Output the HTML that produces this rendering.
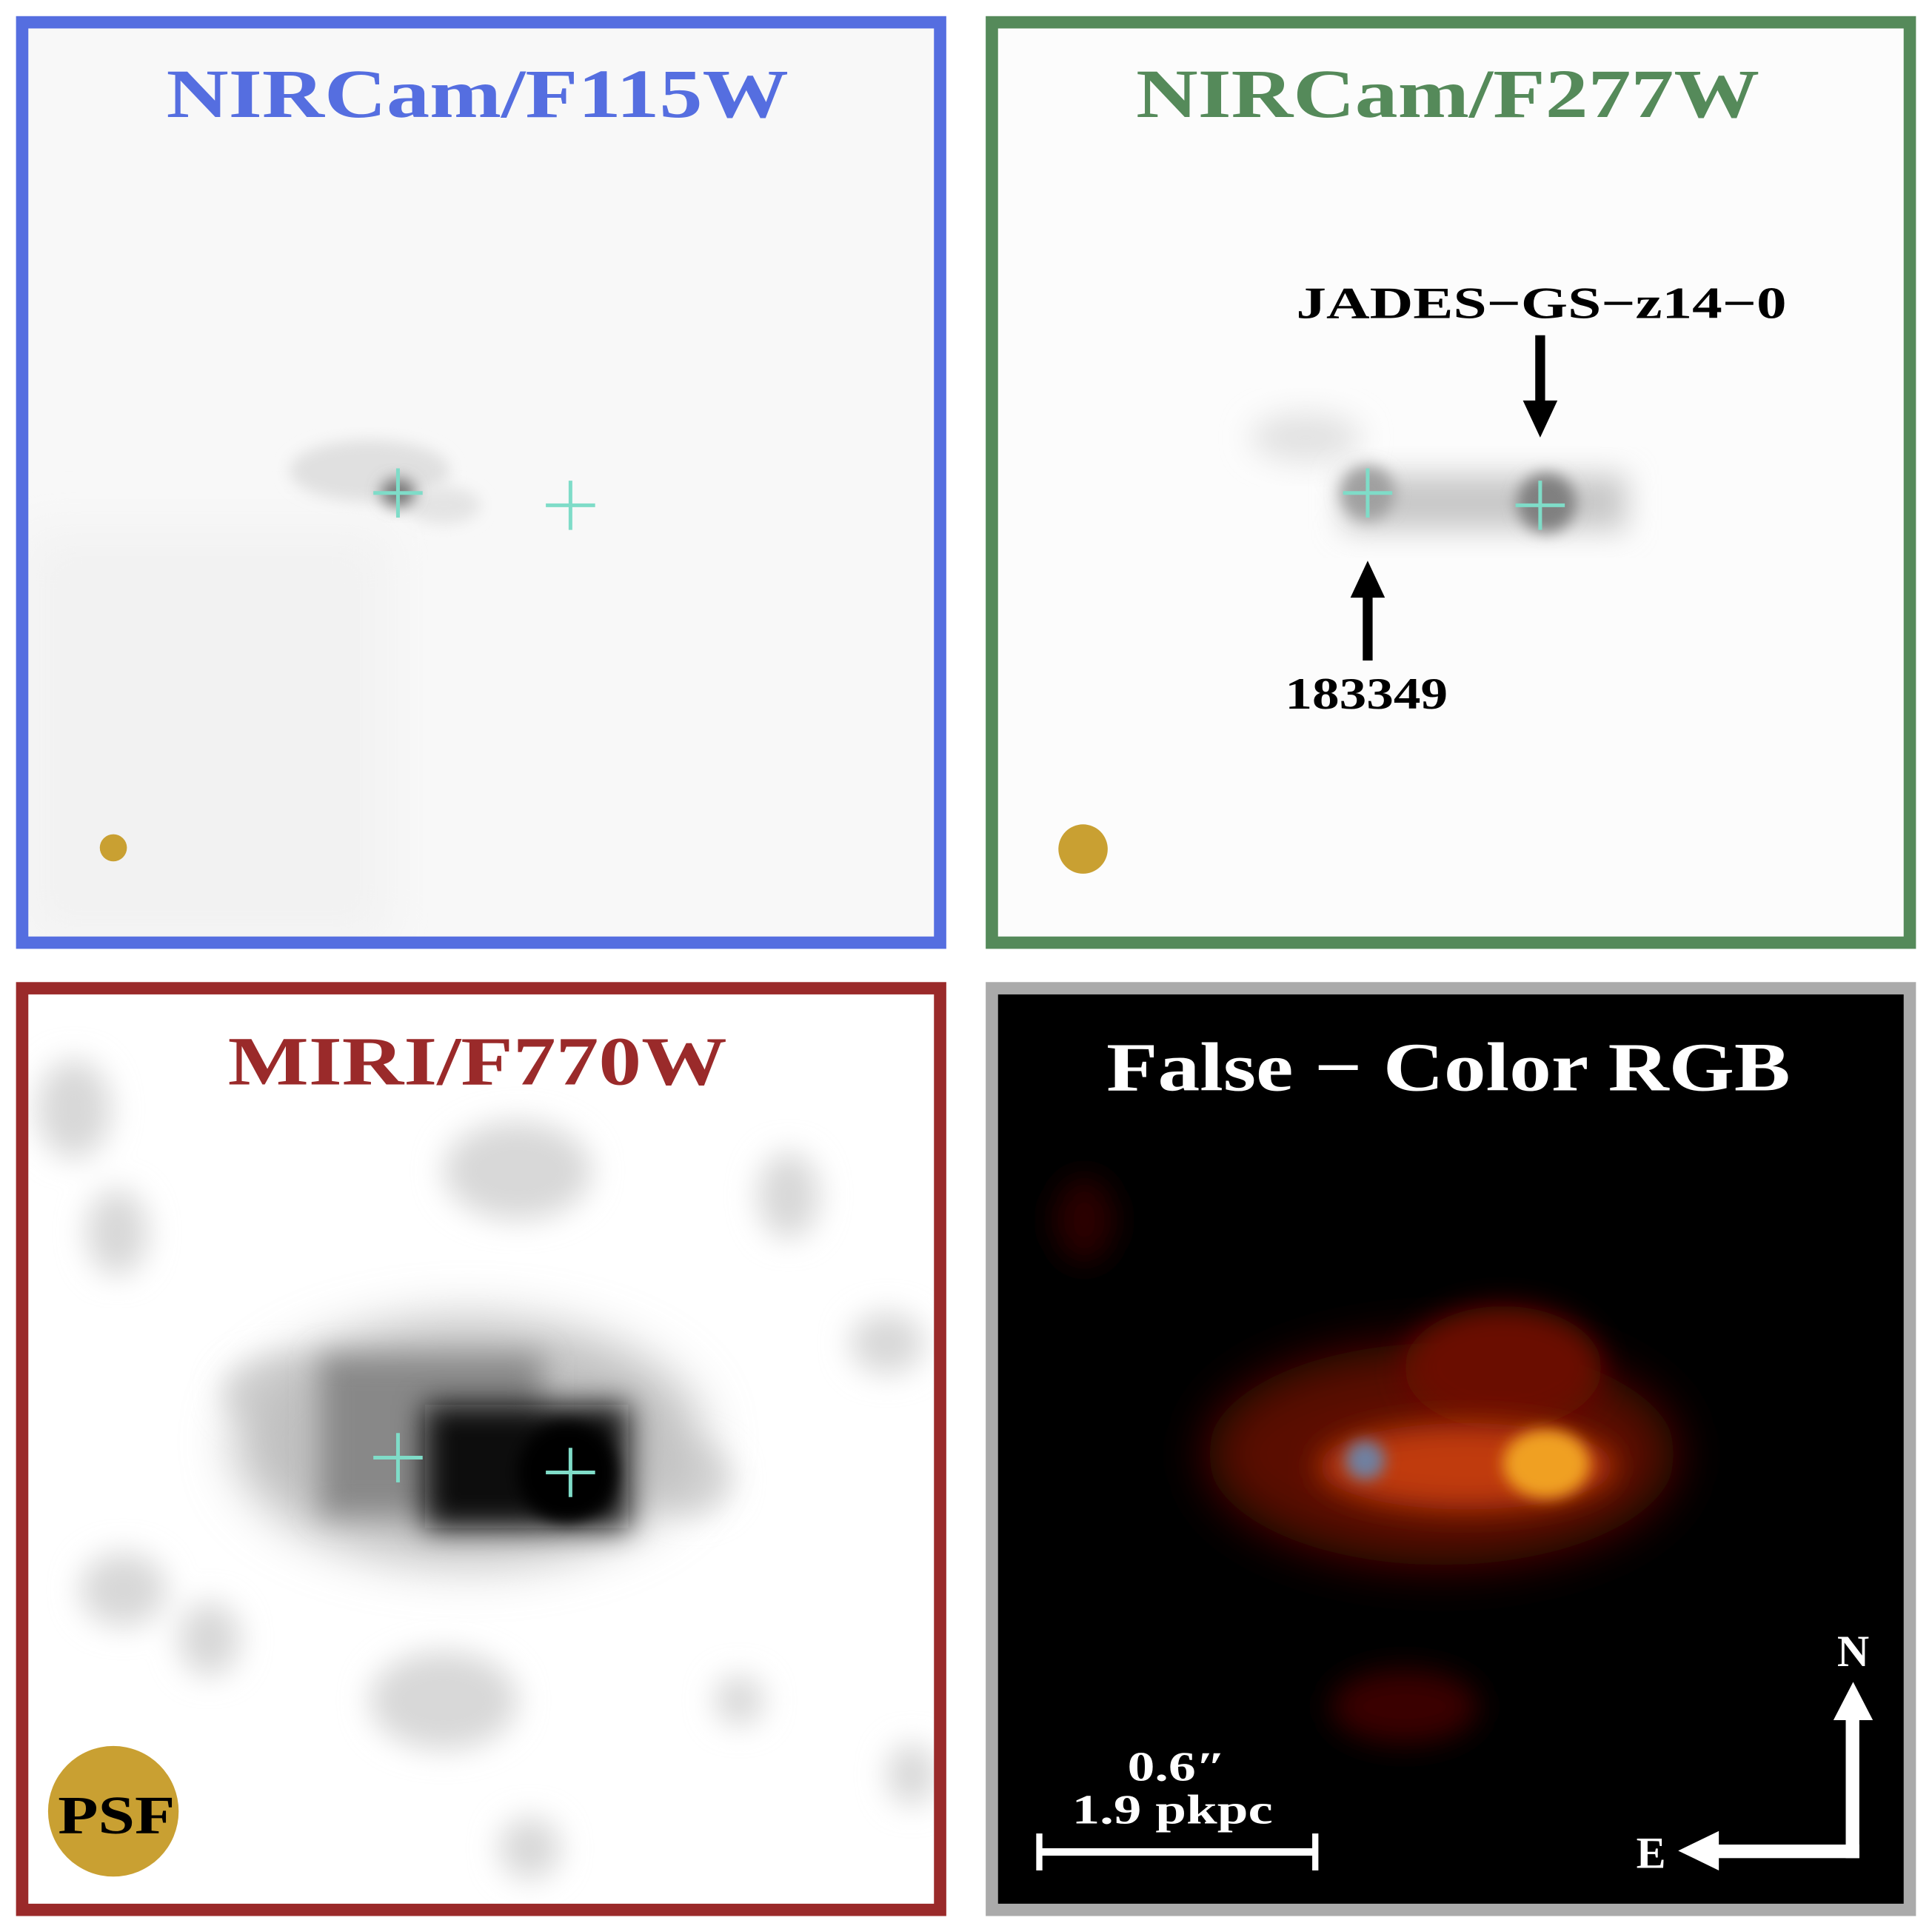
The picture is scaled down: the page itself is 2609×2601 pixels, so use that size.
<!DOCTYPE html>
<html><head><meta charset="utf-8"><style>
html,body{margin:0;padding:0;background:#fff;}
svg{display:block;}
text{font-family:"Liberation Serif",serif;font-weight:bold;}
</style></head><body>
<svg width="2609" height="2601" viewBox="0 0 1568 1563" xmlns="http://www.w3.org/2000/svg">
<defs>
<filter id="b6" x="-50%" y="-50%" width="200%" height="200%"><feGaussianBlur stdDeviation="6"/></filter>
<filter id="b12" x="-50%" y="-50%" width="200%" height="200%"><feGaussianBlur stdDeviation="12"/></filter>
<filter id="b20" x="-50%" y="-50%" width="200%" height="200%"><feGaussianBlur stdDeviation="20"/></filter>
<clipPath id="cTL"><rect x="18" y="18" width="745" height="747"/></clipPath>
<clipPath id="cTR"><rect x="805" y="18" width="745" height="747"/></clipPath>
<clipPath id="cBL"><rect x="18" y="802" width="745" height="748"/></clipPath>
<clipPath id="cBR"><rect x="805" y="802" width="745" height="748"/></clipPath>
</defs>
<rect width="1568" height="1563" fill="#fff"/>

<!-- TL -->
<g clip-path="url(#cTL)">
<rect x="18" y="18" width="745" height="747" fill="#f8f8f8"/>
<rect x="18" y="430" width="300" height="335" fill="#f2f2f2" filter="url(#b20)"/>
<ellipse cx="300" cy="382" rx="65" ry="25" fill="#e0e0e0" filter="url(#b6)"/>
<ellipse cx="360" cy="410" rx="30" ry="15" fill="#e4e4e4" filter="url(#b6)"/>
<ellipse cx="323" cy="400" rx="14" ry="12" fill="#777" filter="url(#b6)"/>
</g>
<rect x="18" y="18" width="745" height="747" fill="none" stroke="#556ee0" stroke-width="10"/>
<text x="135" y="95" font-size="56" fill="#556ee0" textLength="505" lengthAdjust="spacingAndGlyphs">NIRCam/F115W</text>
<circle cx="92" cy="688" r="11" fill="#c9a032"/>

<!-- TR -->
<g clip-path="url(#cTR)">
<rect x="805" y="18" width="745" height="747" fill="#fcfcfc"/>
<ellipse cx="1060" cy="355" rx="45" ry="20" fill="#e2e2e2" filter="url(#b12)"/>
<rect x="1090" y="385" width="230" height="45" fill="#c8c8c8" filter="url(#b12)"/>
<ellipse cx="1110" cy="400" rx="22" ry="22" fill="#a0a0a0" filter="url(#b6)"/>
<ellipse cx="1255" cy="408" rx="24" ry="24" fill="#808080" filter="url(#b6)"/>
</g>
<rect x="805" y="18" width="745" height="747" fill="none" stroke="#558a5a" stroke-width="10"/>
<text x="922" y="95" font-size="56" fill="#558a5a" textLength="506" lengthAdjust="spacingAndGlyphs">NIRCam/F277W</text>
<circle cx="879" cy="689" r="20" fill="#c9a032"/>
<text x="1052" y="258" font-size="36" fill="#000" textLength="398" lengthAdjust="spacingAndGlyphs">JADES−GS−z14−0</text>
<rect x="1246" y="272" width="8" height="58" fill="#000"/>
<polygon points="1236,325 1264,325 1250,355" fill="#000"/>
<rect x="1106" y="480" width="8" height="56" fill="#000"/>
<polygon points="1096,485 1124,485 1110,455" fill="#000"/>
<text x="1043" y="575" font-size="36" fill="#000" textLength="132" lengthAdjust="spacingAndGlyphs">183349</text>

<!-- BL -->
<g clip-path="url(#cBL)">
<rect x="18" y="802" width="745" height="748" fill="#fff"/>
<g fill="#d8d8d8" filter="url(#b12)">
<ellipse cx="60" cy="900" rx="30" ry="40"/>
<ellipse cx="95" cy="1000" rx="25" ry="35"/>
<ellipse cx="420" cy="950" rx="60" ry="40"/>
<ellipse cx="640" cy="970" rx="25" ry="35"/>
<ellipse cx="360" cy="1380" rx="60" ry="40"/>
<ellipse cx="100" cy="1290" rx="35" ry="30"/>
<ellipse cx="170" cy="1330" rx="25" ry="30"/>
<ellipse cx="720" cy="1090" rx="30" ry="25"/>
<ellipse cx="600" cy="1380" rx="20" ry="20"/>
<ellipse cx="740" cy="1440" rx="20" ry="25"/>
<ellipse cx="430" cy="1500" rx="25" ry="25"/>
<ellipse cx="230" cy="1130" rx="50" ry="30"/>
<ellipse cx="560" cy="1200" rx="35" ry="30"/>
</g>
<ellipse cx="380" cy="1170" rx="190" ry="100" fill="#c0c0c0" filter="url(#b20)"/>
<rect x="260" y="1100" width="180" height="130" fill="#888" filter="url(#b12)"/>
<rect x="345" y="1140" width="165" height="100" fill="#111" filter="url(#b12)"/>
<ellipse cx="460" cy="1195" rx="40" ry="40" fill="#000" filter="url(#b6)"/>
</g>
<rect x="18" y="802" width="745" height="748" fill="none" stroke="#9a2a2a" stroke-width="10"/>
<text x="185" y="880" font-size="56" fill="#9a2a2a" textLength="405" lengthAdjust="spacingAndGlyphs">MIRI/F770W</text>
<circle cx="92" cy="1470" r="53" fill="#c9a032"/>
<text x="47" y="1488" font-size="44" fill="#000" textLength="95" lengthAdjust="spacingAndGlyphs">PSF</text>

<!-- BR -->
<g clip-path="url(#cBR)">
<rect x="805" y="802" width="745" height="748" fill="#000"/>
<ellipse cx="1170" cy="1180" rx="190" ry="90" fill="#5a0a06" filter="url(#b20)"/>
<ellipse cx="1220" cy="1110" rx="80" ry="50" fill="#6a0c06" filter="url(#b12)"/>
<ellipse cx="1190" cy="1190" rx="120" ry="35" fill="#c03a10" filter="url(#b12)"/>
<ellipse cx="1255" cy="1188" rx="35" ry="28" fill="#f0a020" filter="url(#b6)"/>
<ellipse cx="1108" cy="1185" rx="16" ry="16" fill="#7080a0" filter="url(#b6)"/>
<ellipse cx="1140" cy="1385" rx="60" ry="30" fill="#3a0505" filter="url(#b12)"/>
<ellipse cx="880" cy="990" rx="25" ry="35" fill="#2a0303" filter="url(#b12)"/>
</g>
<rect x="805" y="802" width="745" height="748" fill="none" stroke="#aaa" stroke-width="10"/>
<text x="898" y="885" font-size="56" fill="#fff" textLength="555" lengthAdjust="spacingAndGlyphs">False − Color RGB</text>
<text x="915" y="1445" font-size="34" fill="#fff" textLength="80" lengthAdjust="spacingAndGlyphs">0.6″</text>
<text x="870" y="1480" font-size="34" fill="#fff" textLength="163" lengthAdjust="spacingAndGlyphs">1.9 pkpc</text>
<rect x="843" y="1500" width="225" height="6" fill="#fff"/>
<rect x="841" y="1488" width="5" height="30" fill="#fff"/>
<rect x="1065" y="1488" width="5" height="30" fill="#fff"/>
<rect x="1498" y="1390" width="11" height="118" fill="#fff"/>
<polygon points="1488,1396 1520,1396 1504,1365" fill="#fff"/>
<rect x="1390" y="1497" width="119" height="11" fill="#fff"/>
<polygon points="1395,1486 1395,1518 1362,1502" fill="#fff"/>
<text x="1504" y="1352" font-size="36" fill="#fff" text-anchor="middle">N</text>
<text x="1340" y="1516" font-size="36" fill="#fff" text-anchor="middle">E</text>

<!-- crosses -->
<g stroke="#7fdcc8" stroke-width="3">
<path d="M303,400h40M323,380v40"/>
<path d="M443,410h40M463,390v40"/>
<path d="M1090,400h40M1110,380v40"/>
<path d="M1230,410h40M1250,390v40"/>
<path d="M303,1183h40M323,1163v40"/>
<path d="M443,1195h40M463,1175v40"/>
</g>
</svg>
</body></html>
